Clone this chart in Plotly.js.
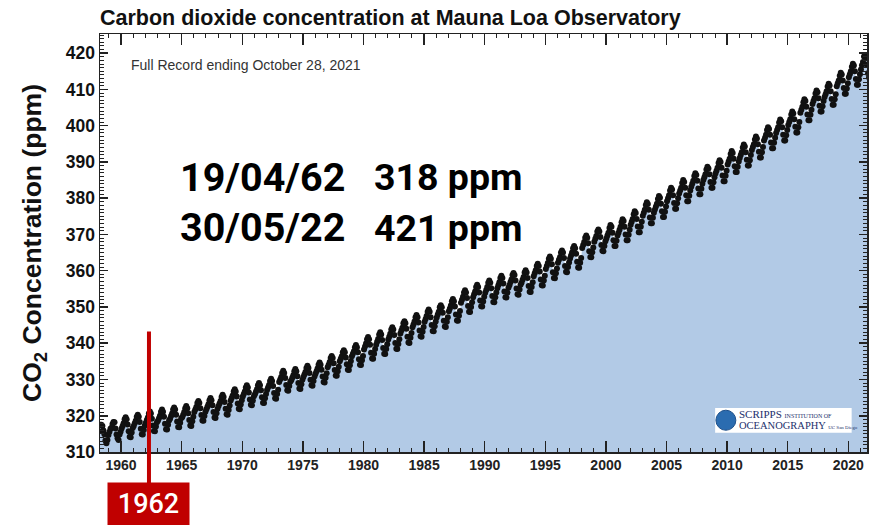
<!DOCTYPE html>
<html>
<head>
<meta charset="utf-8">
<script src="https://cdn.plot.ly/plotly-3.0.1.min.js"></script>
<style>html,body{margin:0;padding:0;background:#fff;}#chart{width:880px;height:525px;}</style>
</head>
<body>
<div id="chart"></div>
<script>
// Monthly mean CO2 at Mauna Loa (ppm), first value = March 1958, last = October 2021
const firstYear = 1958;
const firstMonth = 3;
const co2Monthly = [
  315.7, 317.5, 317.5, 317.2, 315.9, 314.9, 313.2, 312.4, 313.3, 314.7,
  315.6, 316.4, 316.7, 317.7, 318.3, 318.2, 316.5, 314.8, 313.8, 313.3, 314.8, 315.6,
  316.5, 317.2, 317.9, 319.0, 319.6, 319.0, 317.6, 315.7, 314.2, 314.1, 315.4, 316.6,
  317.2, 317.9, 318.6, 319.7, 320.3, 319.7, 318.3, 316.4, 314.9, 314.8, 316.1, 317.3,
  318.1, 318.8, 319.5, 320.6, 321.2, 320.6, 319.2, 317.3, 315.8, 315.7, 317.0, 318.2,
  318.6, 319.3, 320.0, 321.1, 321.7, 321.1, 319.7, 317.8, 316.3, 316.2, 317.5, 318.7,
  319.2, 319.9, 320.6, 321.7, 322.3, 321.7, 320.3, 318.4, 316.9, 316.8, 318.1, 319.3,
  319.6, 320.3, 321.0, 322.1, 322.7, 322.1, 320.7, 318.8, 317.3, 317.2, 318.5, 319.7,
  321.0, 321.7, 322.4, 323.5, 324.1, 323.5, 322.1, 320.2, 318.7, 318.6, 319.9, 321.1,
  321.8, 322.5, 323.2, 324.3, 324.9, 324.3, 322.9, 321.0, 319.5, 319.4, 320.7, 321.9,
  322.7, 323.4, 324.1, 325.2, 325.8, 325.2, 323.8, 321.9, 320.4, 320.3, 321.6, 322.8,
  324.2, 324.9, 325.6, 326.7, 327.3, 326.7, 325.3, 323.4, 321.9, 321.8, 323.1, 324.3,
  325.3, 326.0, 326.7, 327.8, 328.4, 327.8, 326.4, 324.5, 323.0, 322.9, 324.2, 325.4,
  325.9, 326.6, 327.3, 328.4, 329.0, 328.4, 327.0, 325.1, 323.6, 323.5, 324.8, 326.0,
  327.1, 327.8, 328.5, 329.6, 330.2, 329.6, 328.2, 326.3, 324.8, 324.7, 326.0, 327.2,
  329.3, 330.0, 330.7, 331.8, 332.4, 331.8, 330.4, 328.5, 327.0, 326.9, 328.2, 329.4,
  329.8, 330.5, 331.2, 332.3, 332.9, 332.3, 330.9, 329.0, 327.5, 327.4, 328.7, 329.9,
  330.7, 331.4, 332.1, 333.2, 333.8, 333.2, 331.8, 329.9, 328.4, 328.3, 329.6, 330.8,
  331.6, 332.3, 333.0, 334.1, 334.7, 334.1, 332.7, 330.8, 329.3, 329.2, 330.5, 331.7,
  333.4, 334.1, 334.8, 335.9, 336.5, 335.9, 334.5, 332.6, 331.1, 331.0, 332.3, 333.5,
  335.0, 335.7, 336.4, 337.5, 338.1, 337.5, 336.1, 334.2, 332.7, 332.6, 333.9, 335.1,
  336.4, 337.1, 337.8, 338.9, 339.5, 338.9, 337.5, 335.6, 334.1, 334.0, 335.3, 336.5,
  338.3, 339.1, 339.9, 341.1, 341.7, 341.1, 339.6, 337.4, 335.8, 335.7, 337.1, 338.4,
  339.6, 340.4, 341.2, 342.4, 343.0, 342.4, 340.9, 338.7, 337.1, 337.0, 338.4, 339.7,
  341.0, 341.8, 342.6, 343.8, 344.4, 343.8, 342.3, 340.1, 338.5, 338.4, 339.8, 341.1,
  342.7, 343.5, 344.3, 345.5, 346.1, 345.5, 344.0, 341.8, 340.2, 340.1, 341.5, 342.8,
  344.4, 345.2, 346.0, 347.2, 347.8, 347.2, 345.7, 343.5, 341.9, 341.8, 343.2, 344.5,
  345.9, 346.7, 347.5, 348.7, 349.3, 348.7, 347.2, 345.0, 343.4, 343.3, 344.7, 346.0,
  347.1, 347.9, 348.7, 349.9, 350.5, 349.9, 348.4, 346.2, 344.6, 344.5, 345.9, 347.2,
  348.8, 349.6, 350.4, 351.6, 352.2, 351.6, 350.1, 347.9, 346.3, 346.2, 347.6, 348.9,
  351.2, 352.0, 352.8, 354.0, 354.6, 354.0, 352.5, 350.3, 348.7, 348.6, 350.0, 351.3,
  352.7, 353.5, 354.3, 355.5, 356.1, 355.5, 354.0, 351.8, 350.2, 350.1, 351.5, 352.8,
  353.9, 354.7, 355.5, 356.7, 357.3, 356.7, 355.2, 353.0, 351.4, 351.3, 352.7, 354.0,
  355.2, 356.0, 356.8, 358.0, 358.6, 358.0, 356.5, 354.3, 352.7, 352.6, 354.0, 355.3,
  356.0, 356.8, 357.6, 358.8, 359.4, 358.8, 357.3, 355.1, 353.5, 353.4, 354.8, 356.1,
  356.7, 357.5, 358.3, 359.5, 360.1, 359.5, 358.0, 355.8, 354.2, 354.1, 355.5, 356.8,
  358.5, 359.3, 360.1, 361.3, 361.9, 361.3, 359.8, 357.6, 356.0, 355.9, 357.3, 358.6,
  360.5, 361.3, 362.1, 363.3, 363.9, 363.3, 361.8, 359.6, 358.0, 357.9, 359.3, 360.6,
  362.2, 363.0, 363.8, 365.0, 365.6, 365.0, 363.5, 361.3, 359.7, 359.6, 361.0, 362.3,
  363.4, 364.2, 365.0, 366.2, 366.8, 366.2, 364.7, 362.5, 360.9, 360.8, 362.2, 363.5,
  366.3, 367.1, 367.9, 369.1, 369.7, 369.1, 367.6, 365.4, 363.8, 363.7, 365.1, 366.4,
  368.0, 368.8, 369.6, 370.8, 371.4, 370.8, 369.3, 367.1, 365.5, 365.4, 366.8, 368.1,
  368.9, 369.7, 370.5, 371.8, 372.6, 372.1, 370.5, 368.4, 366.8, 366.8, 368.3, 369.7,
  370.5, 371.3, 372.1, 373.4, 374.2, 373.7, 372.1, 370.0, 368.4, 368.4, 369.9, 371.3,
  372.7, 373.5, 374.3, 375.6, 376.4, 375.9, 374.3, 372.2, 370.6, 370.6, 372.1, 373.5,
  375.2, 376.0, 376.8, 378.1, 378.9, 378.4, 376.8, 374.7, 373.1, 373.1, 374.6, 376.0,
  376.9, 377.7, 378.5, 379.8, 380.6, 380.1, 378.5, 376.4, 374.8, 374.8, 376.3, 377.7,
  379.2, 380.0, 380.8, 382.1, 382.9, 382.4, 380.8, 378.7, 377.1, 377.1, 378.6, 380.0,
  381.3, 382.1, 382.9, 384.2, 385.0, 384.5, 382.9, 380.8, 379.2, 379.2, 380.7, 382.1,
  383.2, 384.0, 384.8, 386.1, 386.9, 386.4, 384.8, 382.7, 381.1, 381.1, 382.6, 384.0,
  385.0, 385.8, 386.6, 387.9, 388.7, 388.2, 386.6, 384.5, 382.9, 382.9, 384.4, 385.8,
  386.8, 387.6, 388.4, 389.7, 390.5, 390.0, 388.4, 386.3, 384.7, 384.7, 386.2, 387.6,
  389.3, 390.1, 390.9, 392.2, 393.0, 392.5, 390.9, 388.8, 387.2, 387.2, 388.7, 390.1,
  391.1, 391.9, 392.7, 394.0, 394.8, 394.3, 392.7, 390.6, 389.0, 389.0, 390.5, 391.9,
  393.3, 394.1, 394.9, 396.2, 397.0, 396.5, 394.9, 392.8, 391.2, 391.2, 392.7, 394.1,
  395.9, 396.7, 397.5, 398.8, 399.6, 399.1, 397.5, 395.4, 393.8, 393.8, 395.3, 396.7,
  398.0, 398.8, 399.6, 400.9, 401.7, 401.2, 399.6, 397.5, 395.9, 395.9, 397.4, 398.8,
  400.2, 401.0, 401.8, 403.1, 403.9, 403.4, 401.8, 399.7, 398.1, 398.1, 399.6, 401.0,
  403.6, 404.4, 405.2, 406.5, 407.3, 406.8, 405.2, 403.1, 401.5, 401.5, 403.0, 404.4,
  406.0, 406.8, 407.6, 408.9, 409.7, 409.2, 407.6, 405.5, 403.9, 403.9, 405.4, 406.8,
  407.9, 408.7, 409.5, 410.8, 411.6, 411.1, 409.5, 407.4, 405.8, 405.8, 407.3, 408.7,
  410.9, 411.7, 412.5, 413.8, 414.6, 414.1, 412.5, 410.4, 408.8, 408.8, 410.3, 411.7,
  413.4, 414.2, 415.0, 416.3, 417.1, 416.6, 415.0, 412.9, 411.3, 411.3, 412.8, 414.2,
  415.5, 416.7, 417.6, 419.1, 419.3, 418.9, 416.9, 414.5, 413.3, 413.9
];

// Axis ticks
const yTickVals = [310, 320, 330, 340, 350, 360, 370, 380, 390, 400, 410, 420];
const xTickVals = [1960, 1965, 1970, 1975, 1980, 1985, 1990, 1995, 2000, 2005, 2010, 2015, 2020];

// Texts
const chartTitle = 'Carbon dioxide concentration at Mauna Loa Observatory';
const recordNote = 'Full Record ending October 28, 2021';
const readingDates = ['19/04/62', '30/05/22'];
const readingValues = ['318 ppm', '421 ppm'];
const markerYear = 1962.3;
const markerLabel = '1962';

// Decimal-year position of each monthly value (mid-month)
const xDates = co2Monthly.map((v, i) => firstYear + (firstMonth - 1 + i + 0.5) / 12);

const axisFont = 'Liberation Sans, Arial, Helvetica, sans-serif';
const dateFont = {family: 'Roboto, sans-serif', size: 39.5, weight: 'bold', color: '#000'};
const valueFont = {family: 'Roboto, sans-serif', size: 37.5, weight: 'bold', color: '#000'};
const serif = 'Liberation Serif, Times New Roman, serif';

const traces = [
  {
    x: xDates, y: co2Monthly, type: 'scatter', mode: 'lines',
    line: {width: 0, color: 'rgba(0,0,0,0)'},
    fill: 'tozeroy', fillcolor: '#b2cae6', hoverinfo: 'skip', showlegend: false
  },
  {
    x: xDates, y: co2Monthly, type: 'scatter', mode: 'markers',
    marker: {size: 6, color: '#111111'}, hoverinfo: 'skip', showlegend: false
  }
];

const layout = {
  width: 880, height: 525,
  margin: {l: 100, r: 13, t: 34, b: 73},
  paper_bgcolor: '#ffffff', plot_bgcolor: '#ffffff',
  showlegend: false,
  title: {
    text: chartTitle,
    font: {family: axisFont, size: 21.5, weight: 'bold', color: '#111'},
    x: 0, xref: 'paper', xanchor: 'left',
    y: 0.967, yref: 'container', yanchor: 'middle'
  },
  xaxis: {
    range: [1958.26, 2021.54], autorange: false,
    tickvals: xTickVals, ticktext: xTickVals.map(String),
    ticks: 'inside', ticklen: 11, tickwidth: 1.5, tickcolor: '#222',
    showline: true, linecolor: '#222', linewidth: 1.5, mirror: 'allticks',
    showgrid: false, zeroline: false,
    minor: {dtick: 1, tick0: 1960, ticks: 'inside', ticklen: 4, tickwidth: 1, tickcolor: '#222', showgrid: false},
    tickfont: {family: axisFont, size: 14, weight: 'bold', color: '#222'}
  },
  yaxis: {
    range: [310, 425.3], autorange: false,
    tickvals: yTickVals, ticktext: yTickVals.map(String),
    ticks: 'inside', ticklen: 8, tickwidth: 1.5, tickcolor: '#222',
    showline: true, linecolor: '#222', linewidth: 1.5, mirror: 'allticks',
    showgrid: false, zeroline: false,
    minor: {dtick: 1, tick0: 310, ticks: 'inside', ticklen: 4, tickwidth: 1, tickcolor: '#222', showgrid: false},
    tickfont: {family: axisFont, size: 17.5, weight: 'bold', color: '#111'},
    title: {
      text: 'CO<sub>2</sub> Concentration (ppm)',
      font: {family: axisFont, size: 26.5, weight: 'bold', color: '#111'},
      standoff: 16
    }
  },
  shapes: [
    {type: 'line', xref: 'x', yref: 'paper', x0: markerYear, x1: markerYear, y0: 0.288, y1: -0.075,
     line: {color: '#c00000', width: 4}},
    {type: 'rect', xref: 'paper', yref: 'paper', x0: 0.802, x1: 0.980, y0: 0.046, y1: 0.105,
     fillcolor: '#ffffff', line: {width: 0}},
    {type: 'circle', xref: 'paper', yref: 'paper', x0: 0.803, x1: 0.829, y0: 0.052, y1: 0.100,
     fillcolor: '#2b6cb0', line: {color: '#1d4f8a', width: 1}}
  ],
  annotations: [
    {text: recordNote, xref: 'paper', yref: 'paper', x: 0.038, y: 0.925, xanchor: 'left', yanchor: 'middle',
     showarrow: false, font: {family: axisFont, size: 14, color: '#333'}},
    {text: readingDates[0], xref: 'paper', yref: 'paper', x: 0.102, y: 0.657, xanchor: 'left', yanchor: 'middle',
     showarrow: false, font: dateFont},
    {text: readingValues[0], xref: 'paper', yref: 'paper', x: 0.354, y: 0.657, xanchor: 'left', yanchor: 'middle',
     showarrow: false, font: valueFont},
    {text: readingDates[1], xref: 'paper', yref: 'paper', x: 0.102, y: 0.537, xanchor: 'left', yanchor: 'middle',
     showarrow: false, font: dateFont},
    {text: readingValues[1], xref: 'paper', yref: 'paper', x: 0.354, y: 0.537, xanchor: 'left', yanchor: 'middle',
     showarrow: false, font: valueFont},
    {text: markerLabel, xref: 'x', yref: 'paper', x: markerYear, y: -0.072, xanchor: 'center', yanchor: 'top',
     showarrow: false, width: 81, height: 42, bgcolor: '#c00000', borderpad: 0,
     font: {family: 'Roboto, sans-serif', size: 27, weight: 500, color: '#ffffff'}},
    {text: 'SCRIPPS <span style="font-size:6px">INSTITUTION OF</span>', xref: 'paper', yref: 'paper', x: 0.831, y: 0.090,
     xanchor: 'left', yanchor: 'middle', showarrow: false,
     font: {family: serif, size: 11, color: '#1c2f6b'}},
    {text: 'OCEANOGRAPHY <span style="font-size:5px">UC San Diego</span>', xref: 'paper', yref: 'paper', x: 0.831, y: 0.063,
     xanchor: 'left', yanchor: 'middle', showarrow: false,
     font: {family: serif, size: 10.5, color: '#1c2f6b'}}
  ]
};

Plotly.newPlot('chart', traces, layout, {staticPlot: true, displayModeBar: false});
</script>
</body>
</html>
